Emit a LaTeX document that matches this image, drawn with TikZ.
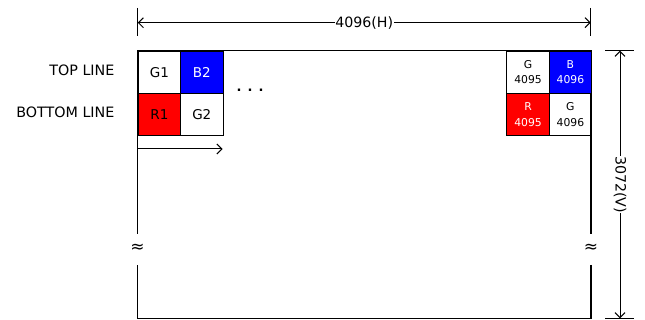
\documentclass[tikz,border=0pt]{standalone}
\usepackage{fontspec}
\setmainfont{DejaVu Sans}
\usetikzlibrary{arrows.meta}
\definecolor{pred}{RGB}{255,0,0}
\definecolor{pblue}{RGB}{0,0,255}
\begin{document}
\begin{tikzpicture}[x=1pt,y=-1pt,line width=1.1pt,
  cell/.style={draw,line width=1pt,minimum width=42.4pt,minimum height=42.2pt,inner sep=0pt,anchor=north west,font=\fontsize{13.5}{15}\selectfont},
  smallcell/.style={cell,align=center,font=\fontsize{10.8}{15.5}\selectfont},
  lbl/.style={anchor=east,inner sep=0pt,font=\fontsize{14.3}{16}\selectfont},
  dimline/.style={line width=1pt,{Straight Barb[length=5pt,width=10pt]}-{Straight Barb[length=5pt,width=10pt]}},
  tickline/.style={line width=1pt},
  dimtxt/.style={fill=white,inner sep=0.5pt,font=\fontsize{14.2}{16}\selectfont},
  approx/.style={inner sep=0pt,font=\fontsize{17}{18}\selectfont}]
\useasboundingbox (0,0) rectangle (645,320);
% frame corners
\coordinate (tl) at (137.7,50.7);
\coordinate (tr) at (591,50.7);
\coordinate (bl) at (137.7,318.3);
\coordinate (br) at (591,318.3);
\coordinate (lgapa) at (137.7,234);
\coordinate (lgapb) at (137.7,265);
\coordinate (rgapa) at (591,234);
\coordinate (rgapb) at (591,265);
\draw[line width=1.1pt] (lgapa) -- (tl) -- (tr) -- (rgapa);
\draw[line width=1.1pt] (rgapb) -- (br) -- (bl) -- (lgapb);
\node[approx] (apl) at (137.5,248) {≈};
\node[approx] (apr) at (591,248) {≈};
% cells
\node[cell] (g1) at (137.7,50.7) {G1};
\node[cell,fill=pblue,text=white] (b2) at (180.1,50.7) {B2};
\node[cell,fill=pred] (r1) at (137.7,92.9) {R1};
\node[cell] (g2) at (180.1,92.9) {G2};
\node[smallcell] (g4095) at (506.3,50.7) {G\\4095};
\node[smallcell,fill=pblue,text=white] (b4096) at (548.7,50.7) {B\\4096};
\node[smallcell,fill=pred,text=white] (r4095) at (506.3,92.9) {R\\4095};
\node[smallcell] (g4096) at (548.7,92.9) {G\\4096};
\node[anchor=base,inner sep=0pt,font=\fontsize{13}{16}\selectfont\bfseries] (dots) at (250,92) {. . .};
% row labels
\node[lbl] (top) at (115,70.5) {TOP LINE};
\node[lbl] (bot) at (115,112) {BOTTOM LINE};
% scan arrow
\coordinate (ra) at (137.7,149);
\coordinate (rb) at (222.5,149);
\draw[line width=1pt,-{Straight Barb[length=5pt,width=10pt]}] (ra) -- (rb);
% horizontal dimension
\coordinate (ha) at (137.7,22.7);
\coordinate (hb) at (590.7,22.7);
\coordinate (hta) at (137.7,8);
\coordinate (htb) at (137.7,36);
\coordinate (hua) at (590.7,8);
\coordinate (hub) at (590.7,36);
\draw[tickline] (hta) -- (htb);
\draw[tickline] (hua) -- (hub);
\draw[dimline] (ha) -- node[dimtxt] (hlab) {4096(H)} (hb);
% vertical dimension
\coordinate (va) at (620,50.7);
\coordinate (vb) at (620,318.3);
\coordinate (vta) at (605,50.7);
\coordinate (vtb) at (634,50.7);
\coordinate (vua) at (605,318.3);
\coordinate (vub) at (634,318.3);
\draw[tickline] (vta) -- (vtb);
\draw[tickline] (vua) -- (vub);
\draw[dimline] (va) -- node[dimtxt,rotate=-90] (vlab) {3072(V)} (vb);
\end{tikzpicture}
\end{document}
